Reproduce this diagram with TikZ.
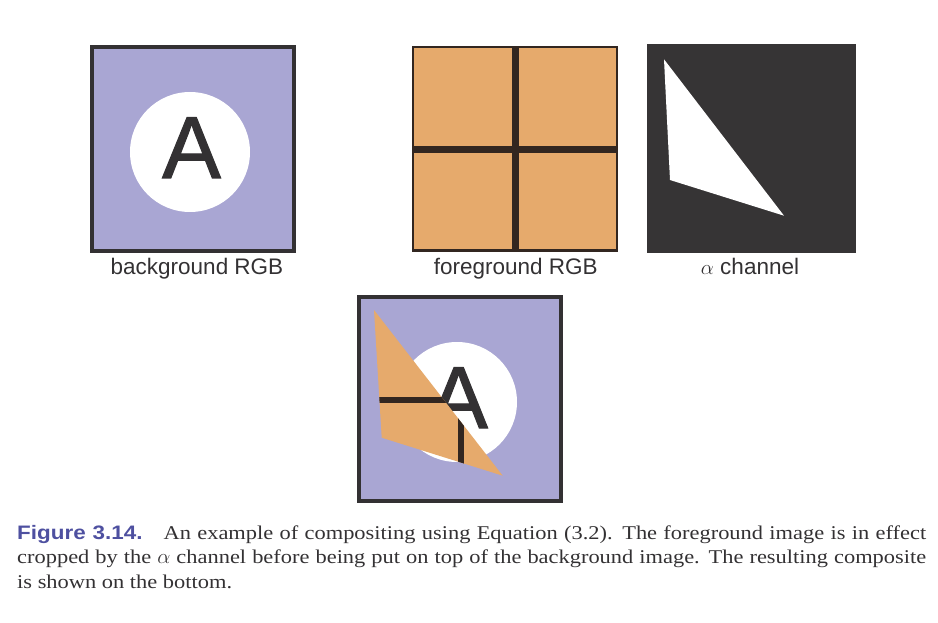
\documentclass[tikz,border=0pt]{standalone}
\usepackage{fontspec}
\setmainfont{Liberation Sans}
\newfontfamily\capserif[FakeStretch=1.15]{Liberation Serif}
\newfontfamily\capsans[FakeStretch=1.15]{Liberation Sans}
\newfontfamily\letterfont[FakeBold=1.2]{Liberation Sans}
\usepackage{tikz}
\definecolor{lavender}{RGB}{169,166,211}
\definecolor{peach}{RGB}{230,170,108}
\definecolor{inkdark}{RGB}{51,49,51}
\definecolor{crossbrown}{RGB}{50,38,32}
\definecolor{matte}{RGB}{54,52,53}
\definecolor{figblue}{RGB}{78,80,160}
\tikzstyle{frame} = [draw=inkdark, line width=4pt]
\tikzstyle{imglabel} = [anchor=base, inner sep=0pt, text=inkdark, font=\fontsize{22.5}{27}\selectfont]
\tikzstyle{bar} = [fill=crossbrown]
\newcommand{\bgpic}[1]{\fill[lavender] (0,0) rectangle (206,208);
	\fill[white] (100,107) circle (60pt);
	\node (#1A) [anchor=base, inner sep=0pt, text=inkdark, font=\letterfont\fontsize{88}{88}\selectfont] at (101.5,133) {A};}
\newcommand{\fgbars}{\fill[bar] (100.1,0) rectangle (107.1,205.7);
	\fill[bar] (0,100.2) rectangle (206.6,107.2);}

\begin{document}
\begin{tikzpicture}[x=1pt, y=-1pt]%
	\useasboundingbox (0,0) rectangle (938,623);
	% background RGB
	\begin{scope}[shift={(90,45)}]
		\bgpic{bg}
		\draw[frame] (2,2) rectangle (204,205.7);
	\end{scope}
	\node (bglabel) [imglabel] at (197,274) {background RGB};
	% foreground RGB
	\begin{scope}[shift={(411.7,46)}]
		\fill[peach] (0,0) rectangle (206.6,205.7);
		\fgbars
		\draw[crossbrown, line width=2.5pt] (1.25,1.25) rectangle (205.35,204.45);
	\end{scope}
	\node (fglabel) [imglabel] at (515.8,274) {foreground RGB};
	% alpha channel
	\fill[matte] (646.7,44.5) rectangle (855.7,252.7);
	\fill[white] (664,59.3) -- (670,180) -- (784,215.7) -- cycle;
	\node (alabel) [imglabel] at (750,274) {$\alpha$ channel};
	% composite
	\begin{scope}[shift={(357,295)}]
		\bgpic{comp}
		\begin{scope}
			\clip (17,15) -- (24.7,142.7) -- (145.7,180.7) -- cycle;
			\fill[peach] (0,0) rectangle (206,208);
			\fill[bar] (100.5,0) rectangle (107,208);
			\fill[bar] (0,101.8) rectangle (206,108.2);
		\end{scope}
		\draw[frame] (2,2) rectangle (204,206);
	\end{scope}
	% caption
	\node (caption) [anchor=base west, inner sep=0pt, text=inkdark] at (17,539) {\parbox[t]{909pt}{\fontsize{19.5}{24.8}\capserif\noindent
		{\capsans\bfseries\color{figblue}Figure 3.14.}\hspace{21pt}An example of compositing using Equation (3.2). The foreground image is in effect\linebreak
		cropped by the $\alpha$ channel before being put on top of the background image. The resulting composite\linebreak
		is shown on the bottom.}};
\end{tikzpicture}
\end{document}
